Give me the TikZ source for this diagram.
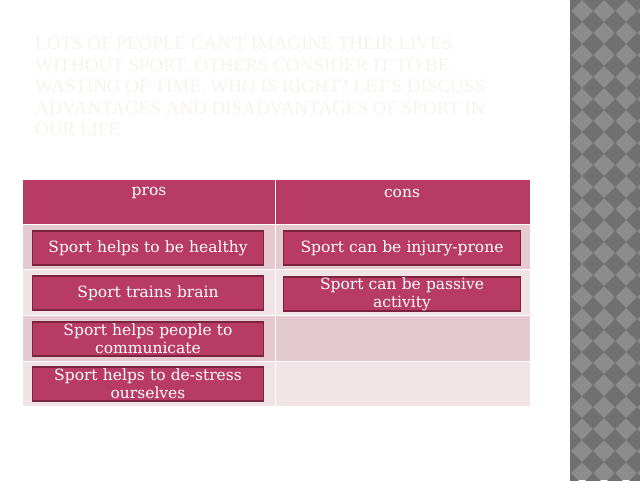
\documentclass[tikz,border=0pt]{standalone}
\usepackage{fontspec}
\setmainfont{DejaVu Serif}
\newfontfamily\titlefont{Liberation Serif}
\definecolor{hdr}{HTML}{B83B66}
\definecolor{rowa}{HTML}{E5CBD0}
\definecolor{rowb}{HTML}{F0E4E7}
\definecolor{boxfill}{HTML}{B83B66}
\definecolor{boxline}{HTML}{7A2440}
\definecolor{ttl}{HTML}{F8F3EF}
\definecolor{chkd}{HTML}{707070}
\definecolor{chkl}{HTML}{8C8C8C}
\tikzset{
  itembox/.style={draw=boxline,line width=1.5pt,fill=boxfill,minimum height=34pt,text=white,font=\fontsize{15.5}{18}\selectfont,align=center,inner sep=0pt},
  lbox/.style={itembox,minimum width=231pt,text width=229pt},
  rbox/.style={itembox,minimum width=237pt,text width=235pt}
}
\begin{document}
\begin{tikzpicture}[x=1pt,y=-1pt]
\useasboundingbox (0,0) rectangle (640,480);
\fill[white] (0,0) rectangle (640,480);
% checker stripe
\fill[chkl] (570,0) rectangle (640,480);
\begin{scope}
\clip (570,0) rectangle (640,480);
\foreach \i in {0,...,4}{\foreach \j in {0,...,22}{
  \fill[chkd] ({560+22*\i},{22*\j}) -- ++(11,-11) -- ++(11,11) -- ++(-11,11) -- cycle;
}}
\end{scope}
% title
\node[anchor=north west,text=ttl,font=\titlefont\fontsize{19}{21.5}\selectfont,align=left,inner sep=0] (title) at (35,37)
{LOTS OF PEOPLE CAN'T IMAGINE THEIR LIVES\\WITHOUT SPORT. OTHERS CONSIDER IT TO BE\\WASTING OF TIME. WHO IS RIGHT? LET'S DISCUSS\\ADVANTAGES AND DISADVANTAGES OF SPORT IN\\OUR LIFE};
% table
\fill[hdr] (23,180) rectangle (530,224);
\fill[rowa] (23,224) rectangle (530,269);
\fill[rowb] (23,269) rectangle (530,315);
\fill[rowa] (23,315) rectangle (530,361);
\fill[rowb] (23,361) rectangle (530,406);
\draw[white,line width=1pt] (275,180) -- (275,406);
\draw[white,line width=1pt] (23,224) -- (530,224);
\draw[white,line width=0.6pt] (23,269) -- (530,269) (23,315) -- (530,315) (23,361) -- (530,361);
\node[text=white,font=\fontsize{15.5}{18}\selectfont] (pros) at (149,193) {pros};
\node[text=white,font=\fontsize{15.5}{18}\selectfont] (cons) at (402,193) {cons};
\node[lbox] (p1) at (148,248) {Sport helps to be healthy};
\node[lbox] (p2) at (148,293) {Sport trains brain};
\node[lbox] (p3) at (148,339) {Sport helps people to\\communicate};
\node[lbox] (p4) at (148,384) {Sport helps to de-stress\\ourselves};
\node[rbox] (c1) at (402,248) {Sport can be injury-prone};
\node[rbox] (c2) at (402,294) {Sport can be passive\\activity};
\end{tikzpicture}
\end{document}
